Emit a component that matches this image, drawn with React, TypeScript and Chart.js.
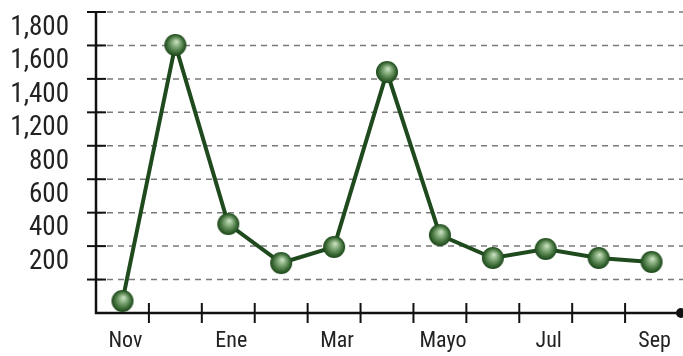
import React, { useEffect, useRef } from 'react';
import { Chart, registerables } from 'chart.js';

Chart.register(...registerables);

const months = ['Nov', 'Dic', 'Ene', 'Feb', 'Mar', 'Abr', 'Mayo', 'Jun', 'Jul', 'Ago', 'Sep'];
const values = [72, 1603, 532, 299, 395, 1441, 466, 329, 383, 329, 305];
const yTickLabels = ['', '', '200', '400', '600', '800', '1,200', '1,400', '1,600', '1,800'];
const yMin = 0;
const yMax = 1800;
const yStep = 200;

const FONT = 'Roboto, sans-serif';

function makeBall(r: number): HTMLCanvasElement {
  const s = Math.ceil(r * 2 + 2);
  const c = document.createElement('canvas');
  c.width = s;
  c.height = s;
  const g = c.getContext('2d')!;
  const cx = s / 2;
  const cy = s / 2;
  const grad = g.createRadialGradient(cx + r * 0.1, cy - r * 0.3, r * 0.05, cx, cy, r);
  grad.addColorStop(0, '#c6dfbe');
  grad.addColorStop(0.35, '#82a979');
  grad.addColorStop(0.75, '#3b6b36');
  grad.addColorStop(1, '#1d461b');
  g.beginPath();
  g.arc(cx, cy, r, 0, Math.PI * 2);
  g.fillStyle = grad;
  g.fill();
  return c;
}

const decor = {
  id: 'decor',
  beforeDatasetsDraw(chart: any) {
    const { ctx, chartArea, scales } = chart;
    const xs = scales.x;
    const ys = scales.y;
    const left = chartArea.left;
    const bottom = chartArea.bottom;
    ctx.save();
    ctx.strokeStyle = '#7a7a7a';
    ctx.lineWidth = 1.5;
    ctx.setLineDash([6, 5]);
    ys.ticks.forEach((t: any) => {
      if (t.value === yMin) return;
      const py = ys.getPixelForValue(t.value);
      ctx.beginPath();
      ctx.moveTo(left, py);
      ctx.lineTo(chart.width, py);
      ctx.stroke();
    });
    ctx.setLineDash([]);
    ctx.strokeStyle = '#111';
    ctx.lineWidth = 2.5;
    ctx.beginPath();
    ctx.moveTo(left, ys.getPixelForValue(yMax) - 1);
    ctx.lineTo(left, bottom);
    ctx.lineTo(chart.width, bottom);
    ctx.stroke();
    ctx.lineWidth = 2;
    ys.ticks.forEach((t: any) => {
      if (t.value === yMin) return;
      const py = ys.getPixelForValue(t.value);
      ctx.beginPath();
      ctx.moveTo(left - 9, py);
      ctx.lineTo(left + 10, py);
      ctx.stroke();
    });
    for (let i = 0; i < months.length - 1; i++) {
      const px = (xs.getPixelForValue(i) + xs.getPixelForValue(i + 1)) / 2;
      ctx.beginPath();
      ctx.moveTo(px, bottom - 10);
      ctx.lineTo(px, bottom + 10);
      ctx.stroke();
    }
    ctx.fillStyle = '#111';
    ctx.beginPath();
    ctx.arc(chart.width - 2, bottom, 5, 0, Math.PI * 2);
    ctx.fill();
    ctx.restore();
  },
};

export default function App() {
  const ref = useRef<HTMLCanvasElement>(null);
  useEffect(() => {
    if (!ref.current) return;
    const ball = makeBall(11);
    const chart = new Chart(ref.current, {
      type: 'line',
      data: {
        labels: months,
        datasets: [
          {
            data: values,
            borderColor: '#1f4a1e',
            borderWidth: 4,
            tension: 0,
            clip: false as any,
            pointStyle: ball as any,
            pointRadius: 11,
            pointHoverRadius: 11,
          },
        ],
      },
      options: {
        animation: false,
        responsive: false,
        events: [],
        layout: { autoPadding: false, padding: { left: 10, right: 5, top: 12, bottom: 0 } },
        plugins: { legend: { display: false }, tooltip: { enabled: false } },
        scales: {
          x: {
            type: 'category',
            offset: true,
            grid: { display: false, drawTicks: false },
            border: { display: false },
            ticks: {
              autoSkip: false,
              maxRotation: 0,
              padding: 15,
              labelOffset: 3,
              color: '#222',
              font: { family: FONT, size: 22, weight: 'condensed' as any, lineHeight: 1.2 },
              callback: (_v: any, i: number) => (i % 2 === 0 ? months[i] : ''),
            },
            afterFit: (s: any) => {
              s.paddingLeft = 0;
              s.paddingRight = 0;
              s.height = 43;
            },
          },
          y: {
            type: 'linear',
            min: yMin,
            max: yMax,
            grid: { display: false, drawTicks: false },
            border: { display: false },
            ticks: {
              stepSize: yStep,
              padding: 27,
              labelOffset: 16,
              color: '#222',
              font: { family: FONT, size: 27, weight: 'condensed' as any, lineHeight: 1 },
              callback: (v: any) => yTickLabels[Math.round(Number(v) / yStep)] ?? '',
            },
            afterFit: (s: any) => {
              s.paddingTop = 0;
              s.paddingBottom = 0;
              s.width = 86;
            },
          },
        },
      },
      plugins: [decor],
    });
    return () => chart.destroy();
  }, []);
  return (
    <div style={{ position: 'fixed', left: 0, top: 0, width: 683, height: 356, background: '#fff' }}>
      <canvas ref={ref} width={683} height={356} style={{ display: 'block' }} />
    </div>
  );
}
